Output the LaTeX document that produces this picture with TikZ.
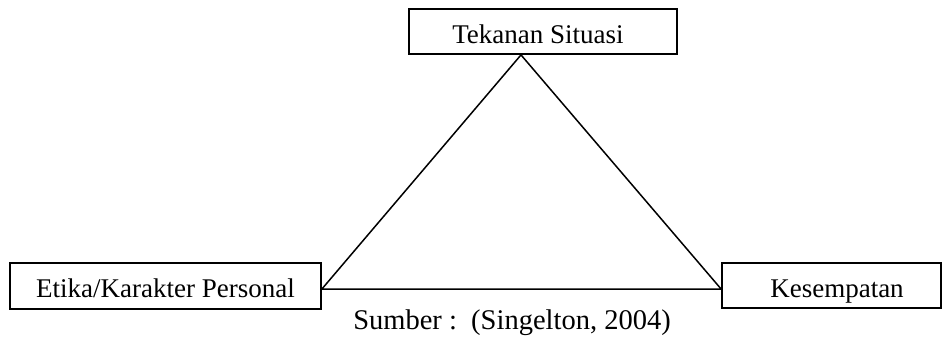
\documentclass[tikz,border=0pt]{standalone}
\usepackage{fontspec}
\setmainfont{Liberation Serif}
\begin{document}
\begin{tikzpicture}[x=1pt,y=-1pt,
  box/.style={draw,line width=1.8pt,inner sep=0pt,text height=23pt,text depth=0pt,
    font=\fontsize{27}{30}\selectfont},
  edge/.style={line width=1.5pt}]
\useasboundingbox (0,0) rectangle (942,341);
\node[box,minimum width=268pt,minimum height=45pt] (top) at (543,31.5) {Tekanan Situasi\hspace*{10pt}};
\node[box,minimum width=311pt,minimum height=46pt] (left) at (165.5,286) {Etika/Karakter Personal};
\node[box,minimum width=219pt,minimum height=45pt] (right) at (831.5,285.5) {\hspace*{11pt}Kesempatan};
\coordinate (A) at ([xshift=-22pt]top.south);
\coordinate (L) at ([yshift=-3pt]left.east);
\coordinate (R) at ([yshift=-3.5pt]right.west);
\draw[edge] (L) -- (A) -- (R) -- cycle;
\node[font=\fontsize{28.5}{32}\selectfont,anchor=base] (src) at (512,329) {Sumber :\ \ (Singelton, 2004)};
\end{tikzpicture}
\end{document}
